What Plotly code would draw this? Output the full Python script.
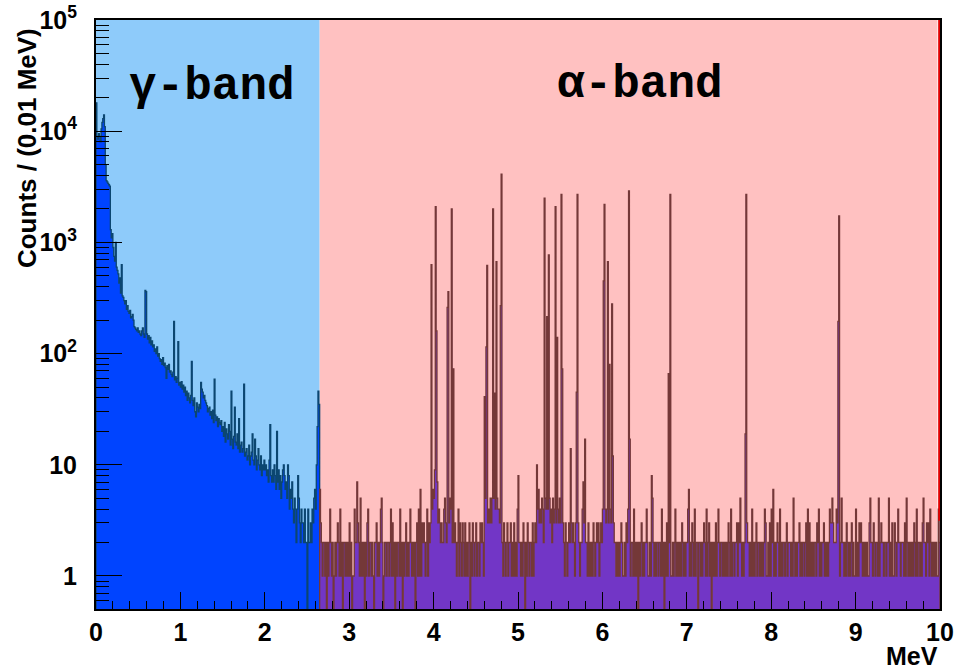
import numpy as np
import plotly.graph_objects as go

# ---------------- data ----------------
BIN = 0.01  # MeV per bin
gamma_start = 0.0
gamma_counts = [
    18000, 9000, 8500, 9500, 9000, 8000, 10500, 12000, 13000, 14000,
    11000, 5000, 3600, 3500, 3400, 3300, 3200, 1300, 1100, 1200,
    900, 750, 680, 1000, 600, 560, 520, 430, 480, 350,
    630, 330, 320, 300, 280, 300, 250, 270, 240, 230,
    245, 210, 215, 225, 200, 175, 170, 165, 160, 170,
    155, 160, 150, 145, 160, 170, 150, 140, 370, 360,
    150, 135, 145, 125, 140, 120, 130, 115, 120, 105,
    110, 100, 115, 95, 100, 90, 85, 88, 80, 92,
    78, 82, 75, 60, 78, 72, 80, 68, 70, 65,
    62, 68, 195, 58, 62, 55, 60, 128, 52, 55,
    50, 56, 48, 52, 45, 50, 42, 46, 38, 44,
    40, 36, 42, 85, 38, 34, 40, 30, 27, 36,
    33, 30, 35, 32, 55, 48, 45, 40, 42, 38,
    36, 34, 30, 32, 33, 28, 30, 26, 31, 24,
    59, 28, 25, 27, 22, 26, 24, 23, 25, 20,
    22, 18, 24, 16, 21, 19, 17, 23, 20, 15,
    46, 17, 14, 18, 33, 16, 15, 19, 14, 26,
    13, 15, 16, 13, 14, 53, 12, 13, 14, 11,
    12, 15, 10, 12, 13, 19, 11, 10, 17, 12,
    9, 11, 14, 10, 9, 12, 8, 10, 9, 11,
    9, 10, 8, 9, 7, 11, 23, 8, 7, 9,
    7, 10, 8, 6, 20, 7, 9, 6, 8, 5,
    7, 9, 10, 8, 6, 7, 5, 10, 8, 4,
    6, 5, 7, 4, 3, 5, 4, 2, 4, 8,
    5, 3, 2, 4, 3, 3, 2, 4, 2, 2,
    0, 4, 2, 2, 3, 2, 4, 3, 5, 6,
    4, 10, 22, 46, 35,
]

alpha_start = 2.65
alpha_baseline = (
    "6321221202 1242120121 2321412022 1212131201 1422132151 "
    "2120213412 2121022312 1243201221 2212413120 2122141202 "
    "1231212421 2120231412 1323212413 2354655432 3432322453 "
    "2453543232 3212413213 2131212302 1321231221 3232145543 "
    "4353545243 5443232132 1231223121 3121432212 1320213212 "
    "2131232546 3435424543 4353425343 3243534232 1321232132 "
    "3213243212 2453322131 2121321232 3123243543 4535434232 "
    "2121212321 1213241312 2141212021 2312122421 1213521212 "
    "2122141202 1312241121 2412121213 2121224112 1321412202 "
    "2121232141 2312021213 1242122121 2121321412 2122313252 "
    "1212343221 2141212312 2121212431 1213142212 1232141212 "
    "2123122212 1521212231 2122123141 3121212213 2412122312 "
    "1212433532 2243541252 2121321212 3121141213 2321212121 "
    "1352213212 2151232212 2122512131 1321242212 2213152121 "
    "2121321412 2121352213 2314212121 21142"
)
alpha_peak_mev = [3.09, 3.38, 3.84, 3.97, 4.01, 4.02, 4.03, 4.04, 4.13, 4.16,
                  4.17, 4.21, 4.23, 4.60, 4.62, 4.63, 4.70, 4.72, 4.74, 4.79,
                  4.80, 5.00, 5.22, 5.31, 5.34, 5.36, 5.44, 5.46, 5.51, 5.52,
                  5.62, 5.69, 5.70, 5.77, 5.79, 6.01, 6.02, 6.06, 6.08, 6.11,
                  6.12, 6.31, 6.32, 6.58, 6.78, 6.80, 7.02, 7.69, 7.70, 8.02,
                  8.79, 8.80]
alpha_peak_counts = [7, 5, 6, 630, 9, 2100, 160, 7, 5, 260,
                     360, 2000, 73, 41, 115, 620, 2000, 44, 670, 270,
                     4100, 8, 10, 2500, 215, 770, 2100, 140, 2700, 73,
                     14, 45, 2700, 7, 17, 450, 2200, 670, 80, 280,
                     12, 2900, 17, 8, 66, 2700, 6, 19, 2700, 6,
                     195, 1730]

y_tick_vals = [1, 10, 100, 1000, 10000, 100000]
y_tick_text = ["1", "10", "10<sup>2</sup>", "10<sup>3</sup>", "10<sup>4</sup>", "10<sup>5</sup>"]
x_tick_vals = list(range(0, 11))
band_labels = ["γ-band", "α-band"]

# ---------------- build ----------------
alpha_counts = [int(c) for c in alpha_baseline.replace(" ", "")]
for e, c in zip(alpha_peak_mev, alpha_peak_counts):
    alpha_counts[int(round((e - alpha_start) / BIN))] = c

FLOOR = 0.1  # below visible axis range: zero bins drop to the axis


def step_polygon(start, counts):
    n = len(counts)
    edges = start + np.arange(n + 1) * BIN
    xs, ys = [edges[0]], [FLOOR]
    for i, c in enumerate(counts):
        v = c if c > 0 else FLOOR
        xs += [edges[i], edges[i + 1]]
        ys += [v, v]
    xs.append(edges[-1])
    ys.append(FLOOR)
    return xs, ys


gx, gy = step_polygon(gamma_start, gamma_counts)
ax_, ay_ = step_polygon(alpha_start, alpha_counts)

fig = go.Figure()
fig.add_trace(go.Scatter(x=gx, y=gy, mode="lines", fill="toself",
                         fillcolor="#0044ff", line=dict(color="#0b4670", width=1.3),
                         hoverinfo="skip", showlegend=False))
fig.add_trace(go.Scatter(x=ax_, y=ay_, mode="lines", fill="toself",
                         fillcolor="#7236c6", line=dict(color="#743838", width=1.3),
                         hoverinfo="skip", showlegend=False))

gamma_end = gamma_start + len(gamma_counts) * BIN
# band backgrounds
fig.add_shape(type="rect", xref="x", yref="paper", x0=0, x1=gamma_end, y0=0, y1=1,
              fillcolor="#8ecbfa", line_width=0, layer="below")
fig.add_shape(type="rect", xref="x", yref="paper", x0=gamma_end, x1=9.97, y0=0, y1=1,
              fillcolor="#ffc1c1", line_width=0, layer="below")
fig.add_shape(type="line", xref="x", yref="paper", x0=9.99, x1=9.99, y0=0.15, y1=1,
              line=dict(color="#e00000", width=2), layer="above")

band_font = dict(family="Liberation Mono", size=46, color="black", weight="bold")
fig.add_annotation(text=band_labels[0], x=1.38, y=0.886, xref="x", yref="paper",
                   xanchor="center", yanchor="middle", showarrow=False, font=band_font)
fig.add_annotation(text=band_labels[1], x=6.45, y=0.89, xref="x", yref="paper",
                   xanchor="center", yanchor="middle", showarrow=False, font=band_font)

fig.add_annotation(text="Counts / (0.01 MeV)", textangle=-90, xref="paper", yref="paper",
                   x=-0.081, y=0.782, xanchor="center", yanchor="middle", showarrow=False,
                   font=dict(family="Liberation Sans", size=26, color="black", weight="bold"))
fig.add_annotation(text="MeV", xref="paper", yref="paper", x=1.0, xanchor="right",
                   y=-0.08, yanchor="middle", showarrow=False,
                   font=dict(family="Liberation Sans", size=25, color="black", weight="bold"))

minor_y = [k * 10.0 ** d for d in range(-1, 5) for k in range(2, 10) if 0.5 <= k * 10.0 ** d <= 1e5]

axis_font = dict(family="Liberation Sans", size=25, color="black", weight="bold")
fig.update_layout(
    width=960, height=669,
    margin=dict(l=96, r=20, t=20, b=60),
    paper_bgcolor="white", plot_bgcolor="white",
    xaxis=dict(range=[0, 10], tickvals=x_tick_vals, ticks="inside", ticklen=17,
               tickcolor="black", tickwidth=1, showgrid=False, zeroline=False,
               showline=True, linecolor="black", linewidth=2, mirror=True,
               tickfont=axis_font, ticklabelstandoff=0, automargin=False,
               minor=dict(dtick=0.2, ticks="inside", ticklen=8, tickcolor="black", showgrid=False)),
    yaxis=dict(type="log", range=[-0.297, 5.0], tickvals=y_tick_vals, ticktext=y_tick_text,
               ticks="inside", ticklen=26, tickcolor="black", tickwidth=1,
               showgrid=False, zeroline=False, showline=True, linecolor="black",
               linewidth=2, mirror=True, tickfont=axis_font, ticklabelstandoff=12,
               automargin=False,
               minor=dict(tickvals=minor_y, ticks="inside", ticklen=13, tickcolor="black", showgrid=False)),
)

fig.write_html("out.html")
